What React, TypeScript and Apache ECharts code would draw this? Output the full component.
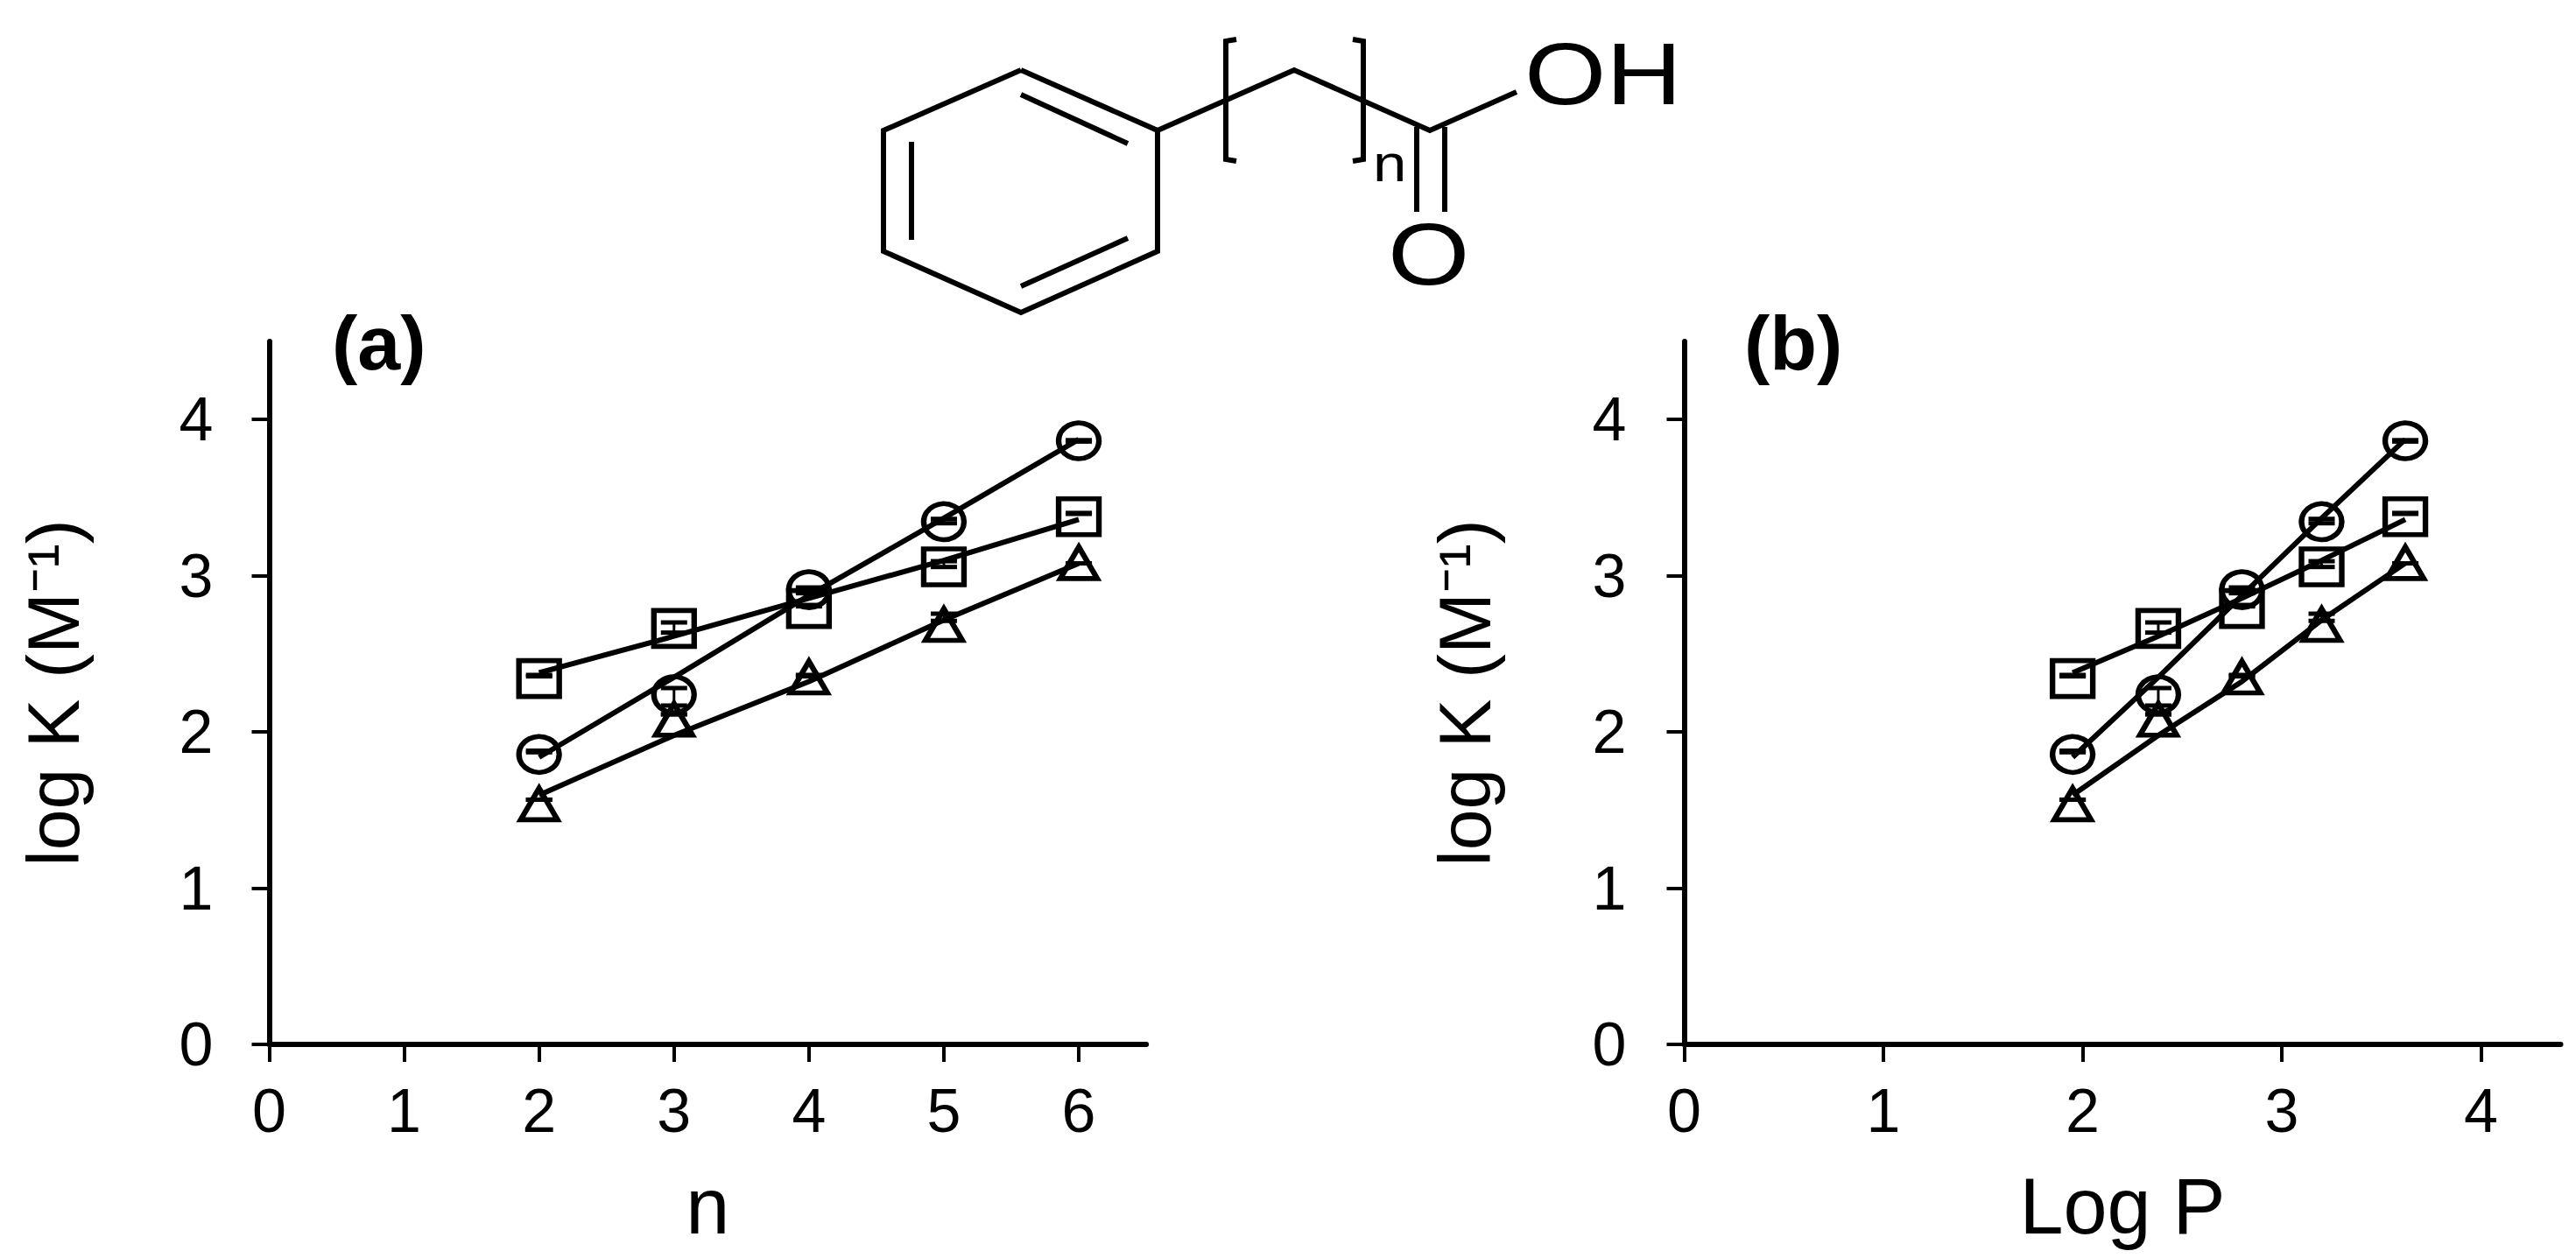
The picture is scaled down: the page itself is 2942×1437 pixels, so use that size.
import React, { useEffect, useRef } from "react";
import * as echarts from "echarts";

const nValues = [2, 3, 4, 5, 6];
const logPValues = [1.95, 2.38, 2.8, 3.2, 3.62];

const circleLogK = [1.856, 2.239, 2.911, 3.346, 3.864];
const squareLogK = [2.342, 2.663, 2.79, 3.057, 3.378];
const triangleLogK = [1.539, 2.08, 2.351, 2.687, 3.083];

const circleFit = [1.838, 2.35, 2.874, 3.369, 3.873];
const squareFit = [2.379, 2.613, 2.856, 3.098, 3.36];
const triangleFit = [1.596, 1.978, 2.323, 2.716, 3.08];

const circleHigh = [1.894, 2.295, 2.939, 3.378, 3.882];
const circleLow = [1.856, 2.155, 2.874, 3.322, 3.845];
const squareHigh = [2.379, 2.715, 2.827, 3.107, 3.416];
const squareLow = [2.342, 2.622, 2.79, 3.042, 3.382];
const triangleHigh = [1.576, 2.127, 2.379, 2.771, 3.089];
const triangleLow = [1.557, 2.099, 2.342, 2.697, 3.07];

const yTicks = [0, 1, 2, 3, 4];
const xTicksA = [0, 1, 2, 3, 4, 5, 6];
const xTicksB = [0, 1, 2, 3, 4];

const FONT = "Liberation Sans";
const INK = "#000";

const pairs = (xs: number[], ys: number[]) => xs.map((x, i) => [x, ys[i]]);

const renderError = (_: any, api: any) => {
  const hi = api.coord([api.value(0), api.value(2)]);
  const lo = api.coord([api.value(0), api.value(1)]);
  const capWidth = 5;
  const mid = (hi[1] + lo[1]) / 2;
  const hiY = Math.min(hi[1] + capWidth / 2, mid);
  const loY = Math.max(lo[1] - capWidth / 2, mid);
  const line = (x1: number, y1: number, x2: number, y2: number, w: number) => ({
    type: "line",
    shape: { x1, y1, x2, y2 },
    style: { stroke: INK, lineWidth: w, fill: "none" },
  });
  return {
    type: "group",
    children: [
      line(hi[0], hiY, lo[0], loY, 3),
      line(hi[0] - 15, hiY, hi[0] + 15, hiY, capWidth),
      line(lo[0] - 15, loY, lo[0] + 15, loY, capWidth),
    ],
  };
};

function panelSeries(xs: number[], axis: number) {
  const defs: [string, number[], number[], number[], number[], string, number[]][] = [
    ["circle", circleLogK, circleFit, circleLow, circleHigh, "circle", [46, 41]],
    ["square", squareLogK, squareFit, squareLow, squareHigh, "rect", [46, 41]],
    ["triangle", triangleLogK, triangleFit, triangleLow, triangleHigh, "triangle", [42, 36]],
  ];
  const out: any[] = [];
  defs.forEach(([name, ys, fit, low, high, symbol, size]) => {
    out.push({
      type: "line",
      name: name + " fit",
      xAxisIndex: axis,
      yAxisIndex: axis,
      data: pairs(xs, fit),
      showSymbol: false,
      symbol: "none",
      lineStyle: { color: INK, width: 6 },
      z: 3,
    });
    out.push({
      type: "scatter",
      name,
      xAxisIndex: axis,
      yAxisIndex: axis,
      data: pairs(xs, ys),
      symbol,
      symbolSize: size,
      itemStyle: { color: "none", borderColor: INK, borderWidth: 6, opacity: 1 },
      z: 4,
    });
    out.push({
      type: "custom",
      name: name + " error",
      xAxisIndex: axis,
      yAxisIndex: axis,
      coordinateSystem: "cartesian2d",
      data: xs.map((x, i) => [x, low[i], high[i]]),
      encode: { x: 0, y: [1, 2] },
      renderItem: renderError,
      z: 5,
    });
  });
  return out;
}

const axisCommon = {
  type: "value",
  min: 0,
  axisLine: { show: true, onZero: false, lineStyle: { color: INK, width: 6 } },
  axisTick: { show: true, length: 20, lineStyle: { color: INK, width: 4 } },
  splitLine: { show: false },
  nameLocation: "middle",
  nameMoveOverlap: false,
};

const labelStyle = { fontFamily: FONT, fontSize: 70, color: INK };
const nameStyle = { fontFamily: FONT, fontSize: 90, color: INK };

function xAxis(grid: number, max: number, ticks: number[], name: string) {
  return {
    ...axisCommon,
    gridIndex: grid,
    max,
    name,
    nameGap: 140,
    nameTextStyle: nameStyle,
    axisTick: { ...axisCommon.axisTick, customValues: ticks },
    axisLabel: { ...labelStyle, margin: 41, customValues: ticks },
  };
}

function yAxis(grid: number, gap: number, margin: number) {
  return {
    ...axisCommon,
    gridIndex: grid,
    max: 4.5,
    name: "log K (M\u207B\u00B9)",
    nameGap: gap,
    nameTextStyle: { ...nameStyle, fontSize: 84 },
    axisTick: { ...axisCommon.axisTick, customValues: yTicks },
    axisLabel: { ...labelStyle, margin, customValues: yTicks },
  };
}

const bond = (points: number[][]) => ({
  type: "polyline",
  shape: { points },
  style: { stroke: INK, lineWidth: 6, fill: "none", lineJoin: "miter" },
});

const label = (text: string, x: number, y: number, fontSize: number, scaleX = 1, weight = "normal") => ({
  type: "text",
  x,
  y,
  scaleX,
  style: { text, fontFamily: FONT, fontSize, fontWeight: weight, fill: INK, verticalAlign: "middle" },
});

const structure = [
  bond([[1166, 80], [1322, 149], [1322, 287], [1166, 357], [1009, 287], [1009, 149], [1166, 80]]),
  bond([[1166, 108], [1288, 164]]),
  bond([[1041, 162], [1041, 274]]),
  bond([[1166, 327], [1288, 272]]),
  bond([[1322, 149], [1478, 80], [1633, 149], [1732, 105]]),
  bond([[1618, 145], [1618, 242]]),
  bond([[1650, 145], [1650, 242]]),
  bond([[1412, 45], [1400, 47], [1400, 182], [1412, 184]]),
  bond([[1545, 45], [1557, 47], [1557, 182], [1545, 184]]),
  label("OH", 1741, 84, 100, 1.2),
  label("O", 1585, 290, 100, 1.2),
  label("n", 1568, 186, 60, 1.15),
  label("(a)", 379, 391, 88, 1, "bold"),
  label("(b)", 1992, 391, 88, 1, "bold"),
];

export default function App() {
  const ref = useRef<HTMLDivElement>(null);
  useEffect(() => {
    const chart = echarts.init(ref.current!, null, { renderer: "svg" });
    chart.setOption({
      animation: false,
      backgroundColor: "#fff",
      grid: [
        { left: 307.5, top: 390, width: 1001.6, height: 803, outerBoundsMode: "none" },
        { left: 1923.5, top: 390, width: 1001, height: 803, outerBoundsMode: "none" },
      ],
      xAxis: [xAxis(0, 6.5, xTicksA, "n"), xAxis(1, 4.4, xTicksB, "Log P")],
      yAxis: [yAxis(0, 205, 64), yAxis(1, 209, 66)],
      series: [...panelSeries(nValues, 0), ...panelSeries(logPValues, 1)],
      graphic: structure,
    });
    return () => chart.dispose();
  }, []);
  return <div ref={ref} style={{ position: "absolute", left: 0, top: 0, width: 2942, height: 1437 }} />;
}
